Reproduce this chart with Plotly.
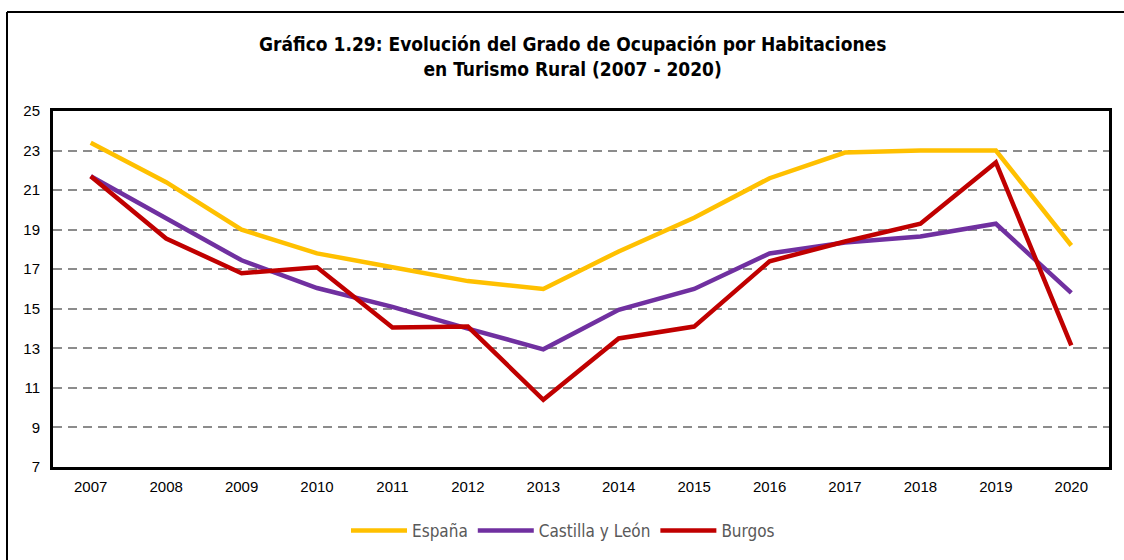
import plotly.graph_objects as go

years = [str(y) for y in range(2007, 2021)]
espana = [23.4, 21.4, 19.0, 17.8, 17.1, 16.4, 16.0, 17.9, 19.6, 21.6, 22.9, 23.0, 23.0, 18.2]
castilla = [21.7, 19.6, 17.45, 16.05, 15.1, 14.0, 12.95, 14.95, 16.0, 17.8, 18.35, 18.65, 19.3, 15.8]
burgos = [21.7, 18.55, 16.8, 17.1, 14.05, 14.1, 10.4, 13.5, 14.1, 17.4, 18.4, 19.3, 22.4, 13.15]

series = [("España", espana, "#FFC000"), ("Castilla y León", castilla, "#7030A0"), ("Burgos", burgos, "#C00000")]

tick_font = dict(family="Liberation Sans, Arial", size=15, color="#000000")

fig = go.Figure()
for name, vals, col in series:
    fig.add_trace(go.Scatter(x=years, y=vals, name=name, mode="lines",
                             line=dict(color=col, width=4.5)))

L, R, T, B = 53, 15, 111, 93
W, H = 1124, 560
pw, ph = W - L - R, H - T - B

def px(x):
    return (x - L) / pw

def py(y):
    return (H - B - y) / ph

fig.update_layout(
    width=W, height=H,
    margin=dict(l=L, r=R, t=T, b=B, autoexpand=False),
    paper_bgcolor="white", plot_bgcolor="white",
    showlegend=True,
    legend=dict(orientation="h", x=px(563), xanchor="center", y=py(531), yanchor="middle",
                font=dict(family="DejaVu Sans Condensed, DejaVu Sans", size=17, color="#595959"),
                itemwidth=56),
    annotations=[dict(text="<b>Gráfico 1.29: Evolución del Grado de Ocupación por Habitaciones<br>en Turismo Rural (2007 - 2020)</b>",
                      x=px(572), y=py(57), xref="paper", yref="paper", showarrow=False,
                      xanchor="center", yanchor="middle", align="center",
                      font=dict(family="DejaVu Sans Condensed, DejaVu Sans", size=19, color="#000000"))],
    shapes=[
        dict(type="line", xref="paper", yref="paper", x0=px(7), x1=px(1130), y0=py(12), y1=py(12),
             line=dict(color="#000000", width=2), layer="below"),
        dict(type="line", xref="paper", yref="paper", x0=px(7), x1=px(7), y0=py(12), y1=py(570),
             line=dict(color="#000000", width=2), layer="below"),
    ],
)

fig.update_xaxes(type="category", range=[-0.5, 13.5], automargin=False,
                 showline=True, linecolor="#000000", linewidth=3, mirror=True,
                 showgrid=False, ticks="", tickfont=tick_font, ticklabelstandoff=4)
fig.update_yaxes(range=[7, 25], dtick=2, tick0=7, automargin=False,
                 showline=True, linecolor="#000000", linewidth=3, mirror=True,
                 showgrid=True, gridcolor="#8C8C8C", gridwidth=2, griddash="9px,6px",
                 zeroline=False, ticks="", tickfont=tick_font, ticklabelstandoff=7)

fig.write_html("out.html", config={"displayModeBar": False},
               post_script="document.body.style.margin='0';")
